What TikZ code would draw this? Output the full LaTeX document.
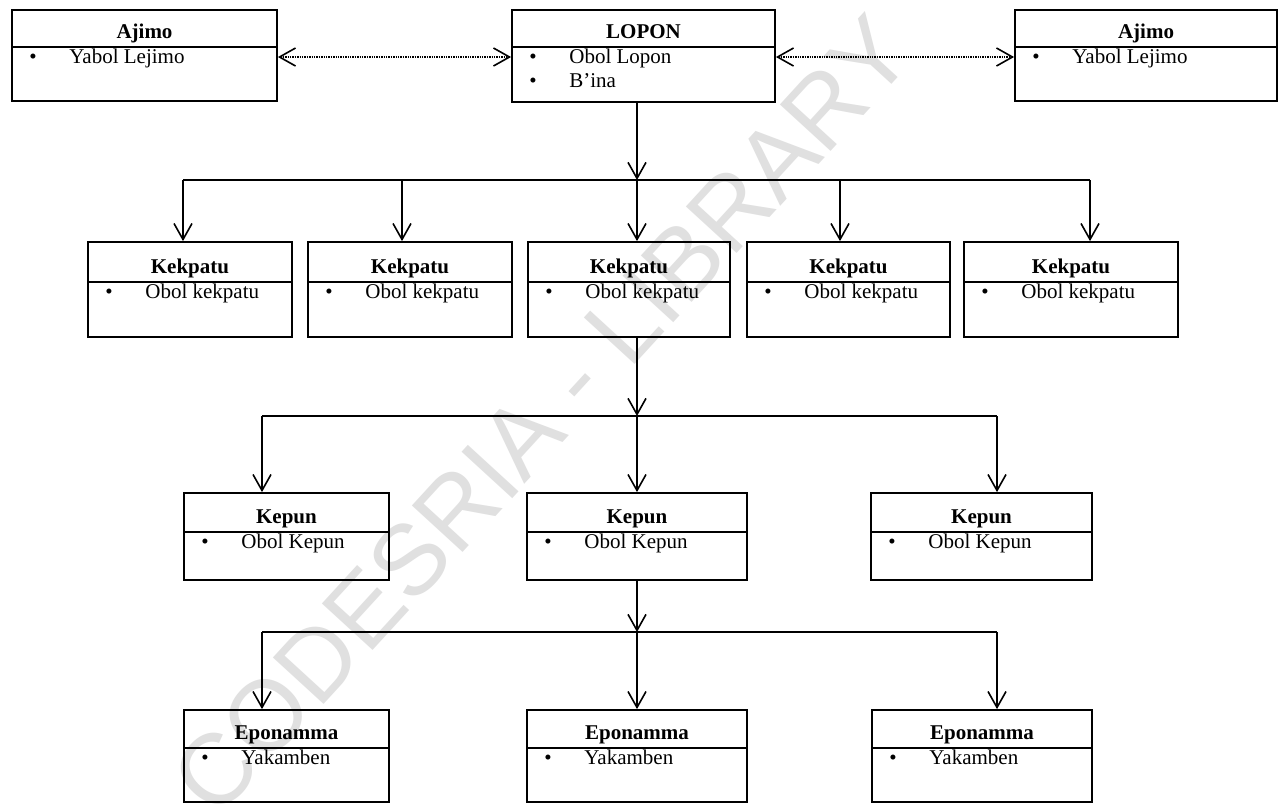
\documentclass[tikz,border=0pt]{standalone}
\usepackage{fontspec}
\setmainfont{Liberation Serif}
\newfontfamily\wmfont{Liberation Sans}
\usetikzlibrary{arrows.meta,fit}
\tikzset{
  boxst/.style={draw, line width=0.9pt, inner sep=0pt},
  divst/.style={line width=0.8pt},
  titlest/.style={font=\fontsize{10.5}{12}\selectfont\bfseries, inner sep=0pt, anchor=base},
  itemst/.style={font=\fontsize{10.5}{12}\selectfont, inner sep=0pt, anchor=base west},
  bulst/.style={font=\fontsize{10.5}{12}\selectfont, inner sep=0pt, anchor=base},
  busst/.style={line width=0.9pt},
  arrst/.style={line width=0.9pt, -{Straight Barb[length=8pt,width=9pt,line width=0.8pt]}},
  darrst/.style={line width=0.7pt, dash pattern=on 0.7pt off 0.5pt,
    {Straight Barb[length=8pt,width=9pt,line width=0.8pt,sep=0pt]}-{Straight Barb[length=8pt,width=9pt,line width=0.8pt]}},
  wmst/.style={font=\wmfont\fontsize{50}{50}\selectfont, text=black!12, inner sep=0pt}
}
% name, x1, y1, x2, y2, ydiv, title
\newcommand\umlbox[7]{%
  \node[boxst, fit={(#2,#3) (#4,#5)}] (#1) {};
  \draw[divst] (#1.west |- 0,#6) -- (#1.east |- 0,#6);
  \node[titlest] (#1-t) at ({(#2+#4)/2},{#6-9}) {#7};
}
% itemname, x1, baseline y, text
\newcommand\umlitem[4]{%
  \node[bulst] (#1-b) at ({#2+21},#3) {\textbullet};
  \node[itemst] (#1-i) at ({#2+57},#3) {#4};
}
\begin{document}
\begin{tikzpicture}[x=0.5pt,y=-0.5pt]
\useasboundingbox (0,0) rectangle (1279,805);
\fill[white] (0,0) rectangle (1279,805);
% watermark
\node[wmst, rotate=47.5] (wm) at (542,415) {CODESRIA - LIBRARY};

% row 1
\umlbox{ajL}{12}{10}{277}{101}{47}{Ajimo}
\umlitem{ajLa}{12}{63}{Yabol Lejimo}
\umlbox{lopon}{512}{10}{775}{102}{47}{LOPON}
\umlitem{lopa}{512}{63}{Obol Lopon}
\umlitem{lopb}{512}{87}{B'ina}
\umlbox{ajR}{1015}{10}{1277}{101}{47}{Ajimo}
\umlitem{ajRa}{1015}{63}{Yabol Lejimo}

\coordinate (dy) at (0,57);
\draw[darrst] (ajL.east |- dy) -- (lopon.west |- dy);
\draw[darrst] (lopon.east |- dy) -- (ajR.west |- dy);

% row 2
\umlbox{k1}{88}{242}{292}{337}{282}{Kekpatu}
\umlitem{k1a}{88}{298}{Obol kekpatu}
\umlbox{k2}{308}{242}{512}{337}{282}{Kekpatu}
\umlitem{k2a}{308}{298}{Obol kekpatu}
\umlbox{k3}{528}{242}{730}{337}{282}{Kekpatu}
\umlitem{k3a}{528}{298}{Obol kekpatu}
\umlbox{k4}{747}{242}{950}{337}{282}{Kekpatu}
\umlitem{k4a}{747}{298}{Obol kekpatu}
\umlbox{k5}{964}{242}{1178}{337}{282}{Kekpatu}
\umlitem{k5a}{964}{298}{Obol kekpatu}

\coordinate (b1) at (637,180);
\coordinate (b1L) at (183,180);
\coordinate (b1A) at (402,180);
\coordinate (b1B) at (840,180);
\coordinate (b1R) at (1090,180);
\draw[arrst] (lopon.south -| b1) -- (b1);
\draw[busst] (b1L) -- (b1R);
\draw[arrst] (b1L) -- (k1.north -| b1L);
\draw[arrst] (b1A) -- (k2.north -| b1A);
\draw[arrst] (b1) -- (k3.north -| b1);
\draw[arrst] (b1B) -- (k4.north -| b1B);
\draw[arrst] (b1R) -- (k5.north -| b1R);

% row 3
\umlbox{p1}{184}{493}{389}{580}{532}{Kepun}
\umlitem{p1a}{184}{548}{Obol Kepun}
\umlbox{p2}{527}{493}{747}{580}{532}{Kepun}
\umlitem{p2a}{527}{548}{Obol Kepun}
\umlbox{p3}{871}{493}{1092}{580}{532}{Kepun}
\umlitem{p3a}{871}{548}{Obol Kepun}

\coordinate (b2) at (637,416);
\coordinate (b2L) at (262,416);
\coordinate (b2R) at (997,416);
\draw[arrst] (k3.south -| b2) -- (b2);
\draw[busst] (b2L) -- (b2R);
\draw[arrst] (b2L) -- (p1.north -| b2L);
\draw[arrst] (b2) -- (p2.north -| b2);
\draw[arrst] (b2R) -- (p3.north -| b2R);

% row 4
\umlbox{e1}{184}{710}{389}{802}{748}{Eponamma}
\umlitem{e1a}{184}{764}{Yakamben}
\umlbox{e2}{527}{710}{747}{802}{748}{Eponamma}
\umlitem{e2a}{527}{764}{Yakamben}
\umlbox{e3}{872}{710}{1092}{802}{748}{Eponamma}
\umlitem{e3a}{872}{764}{Yakamben}

\coordinate (b3) at (637,632);
\coordinate (b3L) at (262,632);
\coordinate (b3R) at (997,632);
\draw[arrst] (p2.south -| b3) -- (b3);
\draw[busst] (b3L) -- (b3R);
\draw[arrst] (b3L) -- (e1.north -| b3L);
\draw[arrst] (b3) -- (e2.north -| b3);
\draw[arrst] (b3R) -- (e3.north -| b3R);
\end{tikzpicture}
\end{document}
